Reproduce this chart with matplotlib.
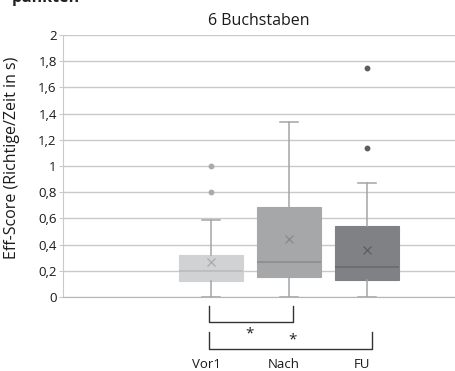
import matplotlib.pyplot as plt
from matplotlib.lines import Line2D
from matplotlib.transforms import ScaledTranslation

plt.rcParams['font.family'] = ['Open Sans', 'DejaVu Sans']

# Kennwerte je Messzeitpunkt (Eff-Score, Richtige/Zeit in s)
categories = ['Vor1', 'Nach', 'FU']
q1 = [0.12, 0.155, 0.13]
median = [0.20, 0.27, 0.23]
q3 = [0.32, 0.685, 0.54]
mean = [0.27, 0.445, 0.36]
whisker_low = [0.0, 0.0, 0.0]
whisker_high = [0.59, 1.335, 0.87]
outliers = [[0.80, 1.00], [], [1.14, 1.75]]

box_colors = ['#d1d2d4', '#a6a7a9', '#808184']
median_colors = ['#bdbec0', '#8e8f91', '#6b6c6e']
mark_colors = ['#a9aaac', '#88898b', '#5c5d5f']
whisker_color = '#a3a4a6'
grid_color = '#c9c9c9'

fig = plt.figure(figsize=(4.55, 3.71), dpi=100)
ax = fig.add_axes([63 / 455, 1 - 297 / 371, 1 - 63 / 455, (297 - 35) / 371])

positions = [1, 2, 3]
for i, pos in enumerate(positions):
    stats = [{
        'med': median[i], 'q1': q1[i], 'q3': q3[i],
        'whislo': whisker_low[i], 'whishi': whisker_high[i],
        'mean': mean[i], 'fliers': outliers[i],
    }]
    ax.bxp(stats, positions=[pos], widths=0.83, patch_artist=True,
           showmeans=True, manage_ticks=False,
           boxprops=dict(facecolor=box_colors[i], edgecolor=box_colors[i], linewidth=0.8),
           medianprops=dict(color=median_colors[i], linewidth=1.3),
           whiskerprops=dict(color=whisker_color, linewidth=1.1),
           capprops=dict(color=whisker_color, linewidth=1.1),
           capwidths=0.24,
           meanprops=dict(marker='x', markeredgecolor=mark_colors[i],
                          markersize=6, markeredgewidth=0.9),
           flierprops=dict(marker='o', markerfacecolor=mark_colors[i],
                           markeredgecolor=mark_colors[i], markersize=3.2),
           zorder=3)

ax.set_xlim(1 - 148 / 78, 3 + 88 / 78)
ax.set_ylim(0, 2)
ax.set_yticks([0, 0.2, 0.4, 0.6, 0.8, 1, 1.2, 1.4, 1.6, 1.8, 2])
ax.set_yticklabels(['0', '0,2', '0,4', '0,6', '0,8', '1', '1,2', '1,4', '1,6', '1,8', '2'])
ax.yaxis.grid(True, color=grid_color, linewidth=1.0, zorder=0)
ax.set_axisbelow(True)
ax.tick_params(axis='y', length=3, color=grid_color, labelsize=9.5, pad=1.5, labelcolor='#1a1a1a')

ax.set_xticks(positions)
ax.set_xticklabels(categories)
ax.tick_params(axis='x', length=0, labelsize=9.5, pad=44, labelcolor='#1a1a1a')
shift = ScaledTranslation(-5 / 100, 0, fig.dpi_scale_trans)
for lbl in ax.get_xticklabels():
    lbl.set_transform(lbl.get_transform() + shift)

for side in ['top', 'right']:
    ax.spines[side].set_visible(False)
ax.spines['left'].set_color(grid_color)
ax.spines['bottom'].set_color('#b5b5b5')

ax.set_ylabel('Eff-Score (Richtige/Zeit in s)', fontsize=11.5, color='#1a1a1a')
ax.yaxis.set_label_coords(-0.11, 0.53)
ax.set_title('6 Buchstaben', fontsize=11.5, color='#1a1a1a', pad=7)

# Signifikanzklammern unter der Achse
def bracket(x0, x1, y_top, y_bot):
    ax.add_line(Line2D([x0, x0, x1, x1], [y_top, y_bot, y_bot, y_top],
                       color='#333333', linewidth=1.0, clip_on=False))

bracket(0.97, 2.05, -0.07, -0.19)
bracket(0.97, 3.06, -0.27, -0.40)
ax.text(1.49, -0.28, '*', ha='center', va='center', fontsize=11, color='#222222', clip_on=False)
ax.text(2.04, -0.33, '*', ha='center', va='center', fontsize=11, color='#222222', clip_on=False)

fig.text(12 / 455, 1 - 1.5 / 371, 'punkten', ha='left', va='baseline', fontsize=11.5,
         fontweight='bold', color='#222222')

fig.savefig('out.png', dpi=100)
